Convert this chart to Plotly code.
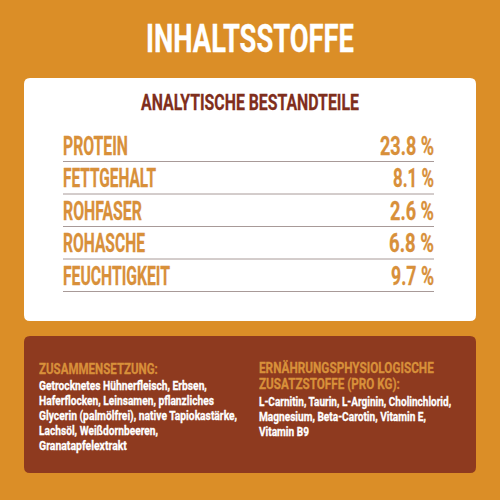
import json
import plotly.graph_objects as go

nutrients = ["PROTEIN", "FETTGEHALT", "ROHFASER", "ROHASCHE", "FEUCHTIGKEIT"]
values = ["23.8 %", "8.1 %", "2.6 %", "6.8 %", "9.7 %"]
title = "INHALTSSTOFFE"
subtitle = "ANALYTISCHE BESTANDTEILE"
left_head = ["ZUSAMMENSETZUNG:"]
left_body = ["Getrocknetes Hühnerfleisch, Erbsen,", "Haferflocken, Leinsamen, pflanzliches",
             "Glycerin (palmölfrei), native Tapiokastärke,", "Lachsöl, Weißdornbeeren,", "Granatapfelextrakt"]
right_head = ["ERNÄHRUNGSPHYSIOLOGISCHE", "ZUSATZSTOFFE (PRO KG):"]
right_body = ["L-Carnitin, Taurin, L-Arginin, Cholinchlorid,", "Magnesium, Beta-Carotin, Vitamin E,", "Vitamin B9"]

ORANGE, BROWN, TEXT, RULE = "#DB8E27", "#8E3A1F", "#D8903A", "#A89A98"
FONT = "Roboto"

def rrect(x0, y0, x1, y1, r):
    return (f"M{x0+r},{y0} L{x1-r},{y0} Q{x1},{y0} {x1},{y0+r} L{x1},{y1-r} Q{x1},{y1} {x1-r},{y1} "
            f"L{x0+r},{y1} Q{x0},{y1} {x0},{y1-r} L{x0},{y0+r} Q{x0},{y0} {x0+r},{y0} Z")

fig = go.Figure()
shapes = [
    dict(type="path", path=rrect(24, 78, 476, 321, 6), fillcolor="white", line_width=0, layer="below"),
    dict(type="path", path=rrect(24, 336, 476, 473, 6), fillcolor=BROWN, line_width=0, layer="below"),
]
row_y = [146 + 32.5 * i for i in range(len(nutrients))]
for y in row_y:
    shapes.append(dict(type="line", x0=63, x1=434, y0=y + 15.5, y1=y + 15.5, line=dict(color=RULE, width=1)))

fit = []  # rendered width of every text, in drawing order

def text(xs, ys, labels, pos, size, color, widths):
    fig.add_trace(go.Scatter(x=xs, y=ys, text=[f"<b>{t}</b>" for t in labels], mode="text",
                             textposition=pos, textfont=dict(size=size, color=color, family=FONT),
                             hoverinfo="skip", showlegend=False, cliponaxis=False))
    fit.extend(widths)

text([250], [43], [title], "middle center", 38, "white", [208])
text([250], [105], [subtitle], "middle center", 22, "#7F2E1C", [218])
text([63] * 5, [y + 2.5 for y in row_y], nutrients, "middle right", 25, TEXT, [65, 93, 79, 82, 107])
text([434] * 5, [y + 2.5 for y in row_y], values, "middle left", 25, TEXT, [54, 41, 44, 45, 43])
text([39], [371], left_head, "middle right", 14, TEXT, [119])
text([39] * 5, [386.5 + 15 * i for i in range(5)], left_body, "middle right", 12.7, "white", [168, 175, 198, 119, 88])
text([259] * 2, [369.5, 386], right_head, "middle right", 14, TEXT, [175, 141])
text([259] * 3, [402.5, 417.5, 433], right_body, "middle right", 12.7, "white", [192, 167, 50])

fig.update_layout(width=500, height=500, margin=dict(l=0, r=0, t=0, b=0),
                  paper_bgcolor=ORANGE, plot_bgcolor=ORANGE, shapes=shapes,
                  xaxis=dict(range=[0, 500], visible=False, fixedrange=True),
                  yaxis=dict(range=[500, 0], visible=False, fixedrange=True))

squeeze = """
document.body.style.margin='0';
var w = %s;
var els = document.querySelectorAll('.textpoint text');
els.forEach(function(t, i){
  var s = w[i] / t.getComputedTextLength();
  var ax = parseFloat(t.getAttribute('x'));
  t.setAttribute('transform', 'translate(' + ax + ',0) scale(' + s + ',1) translate(' + (-ax) + ',0)');
  t.style.stroke = t.style.fill;
  t.style.strokeWidth = '0.3px';
});
""" % json.dumps(fit)
fig.write_html("out.html", config=dict(displayModeBar=False), post_script=squeeze)
